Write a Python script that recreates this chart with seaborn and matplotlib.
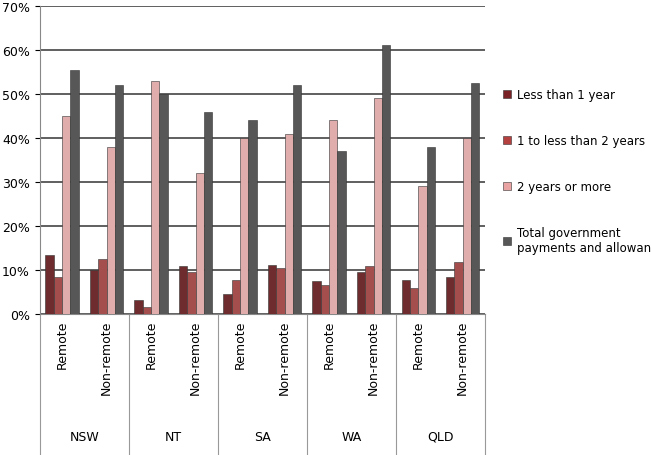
"""Grouped bar chart: government payments by region and duration."""

import matplotlib.pyplot as plt
import matplotlib.transforms as mtransforms
import pandas as pd
import seaborn as sns

states = ["NSW", "NT", "SA", "WA", "QLD"]
areas = ["Remote", "Non-remote"]
series = [
    "Less than 1 year",
    "1 to less than 2 years",
    "2 years or more",
    "Total government\npayments and allowances",
]
# values per category (state x area order), in percent
less_1 = [13.5, 10.0, 3.2, 11.0, 4.5, 11.2, 7.5, 9.5, 7.8, 8.5]
one_to_2 = [8.5, 12.5, 1.5, 9.5, 7.8, 10.5, 6.5, 11.0, 6.0, 11.8]
two_plus = [45.0, 38.0, 53.0, 32.0, 40.0, 41.0, 44.0, 49.0, 29.0, 40.0]
total = [55.5, 52.0, 50.0, 46.0, 44.0, 52.0, 37.0, 61.0, 38.0, 52.5]
colors = ["#7a2125", "#b4403f", "#e9a3a3", "#575757"]

cats = [f"{s}|{a}" for s in states for a in areas]
rows = []
for name, vals in zip(series, [less_1, one_to_2, two_plus, total]):
    for c, v in zip(cats, vals):
        rows.append({"cat": c, "series": name, "value": v})
df = pd.DataFrame(rows)

fig = plt.figure(figsize=(6.51, 4.56), dpi=100)
ax = fig.add_axes([0.061, 0.309, 0.684, 0.676])
sns.barplot(data=df, x="cat", y="value", hue="series", order=cats,
            hue_order=series, palette=colors, width=0.75, ax=ax,
            edgecolor="#333333", linewidth=0.4, zorder=3)

ax.set_ylim(0, 70)
ax.set_yticks(range(0, 71, 10))
ax.set_yticklabels([f"{t}%" for t in range(0, 71, 10)], fontsize=9)
ax.yaxis.grid(True, color="#444444", linewidth=1.2, zorder=0)
ax.set_xlim(-0.5, len(cats) - 0.5)
ax.set_xticks(range(len(cats)))
ax.set_xticklabels([a for s in states for a in areas], rotation=90, fontsize=9)
ax.tick_params(axis="x", length=0, pad=4)
ax.set_xlabel("")
ax.set_ylabel("")
for side in ["top", "right"]:
    ax.spines[side].set_visible(False)
ax.spines["left"].set_color("#888888")
ax.spines["bottom"].set_color("#888888")

trans = mtransforms.blended_transform_factory(ax.transData, ax.transAxes)
for i, s in enumerate(states):
    ax.text(2 * i + 0.5, -0.396, s, transform=trans, ha="center", va="center",
            fontsize=9)
for b in range(len(states) + 1):
    ax.plot([2 * b - 0.5, 2 * b - 0.5], [0, -0.46], transform=trans,
            color="#999999", linewidth=0.8, clip_on=False)

ax.legend_.remove()
handles = [plt.Rectangle((0, 0), 1, 1, facecolor=c, edgecolor="#333333",
                         linewidth=0.4) for c in colors]
fig.legend(handles, series, loc="upper left", bbox_to_anchor=(0.765, 0.815),
           frameon=False, fontsize=8.5, labelspacing=2.8, handlelength=0.7,
           handleheight=0.7, handletextpad=0.5, borderaxespad=0)

fig.savefig("out.png", dpi=100)
